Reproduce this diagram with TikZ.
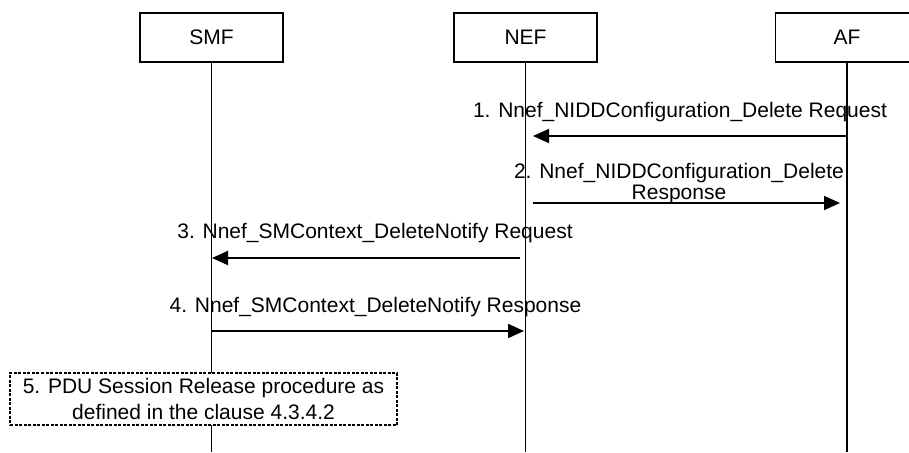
\documentclass[tikz,border=0pt]{standalone}
\usepackage{fontspec}
\setmainfont{Liberation Sans}
\usetikzlibrary{arrows.meta}
\begin{document}
\begin{tikzpicture}[x=1pt,y=-1pt,
  entity/.style={draw, line width=1.9pt, minimum width=143pt, minimum height=49pt, inner sep=0pt, font=\fontsize{21}{24}\selectfont},
  life/.style={line width=1.9pt},
  msg/.style={line width=1.9pt, -{Triangle[length=16pt,width=14pt]}},
  lbl/.style={inner sep=0pt, font=\fontsize{21}{20.5}\selectfont, align=center},
  procbox/.style={draw, line width=1.8pt, dash pattern=on 3pt off 1.5pt, fill=white, minimum width=387pt, minimum height=52pt, inner sep=0pt, align=center, font=\fontsize{21}{26}\selectfont}]
\useasboundingbox (0,0) rectangle (909,452);
% entities
\node[entity] (smf) at (211.5,37.5) {SMF};
\node[entity] (nef) at (525.5,37.5) {NEF};
\node[entity] (af) at (847,37.5) {AF};
% lifelines
\coordinate (smfend) at (211.5,452);
\coordinate (nefend) at (525.5,452);
\coordinate (afend) at (847,452);
\draw[life] (smf.south) -- (smfend);
\draw[life] (nef.south) -- (nefend);
\draw[life] (af.south) -- (afend);
% message end points
\coordinate (m1s) at (847,136);
\coordinate (m1e) at (533,136);
\coordinate (m2s) at (533,203);
\coordinate (m2e) at (840,203);
\coordinate (m3s) at (520,258);
\coordinate (m3e) at (212,258);
\coordinate (m4s) at (212,331);
\coordinate (m4e) at (524,331);
\draw[msg] (m1s) -- (m1e);
\draw[msg] (m2s) -- (m2e);
\draw[msg] (m3s) -- (m3e);
\draw[msg] (m4s) -- (m4e);
% labels
\node[lbl, anchor=base] (l1) at (680,117) {1. Nnef\_NIDDConfiguration\_Delete Request};
\node[lbl, anchor=base] (l2) at (679,199) {2. Nnef\_NIDDConfiguration\_Delete\\Response};
\node[lbl, anchor=base] (l3) at (375,238) {3. Nnef\_SMContext\_DeleteNotify Request};
\node[lbl, anchor=base] (l4) at (375.5,312) {4. Nnef\_SMContext\_DeleteNotify Response};
% procedure box
\node[procbox] (p5) at (203.5,399) {5. PDU Session Release procedure as\\defined in the clause 4.3.4.2};
\end{tikzpicture}
\end{document}
